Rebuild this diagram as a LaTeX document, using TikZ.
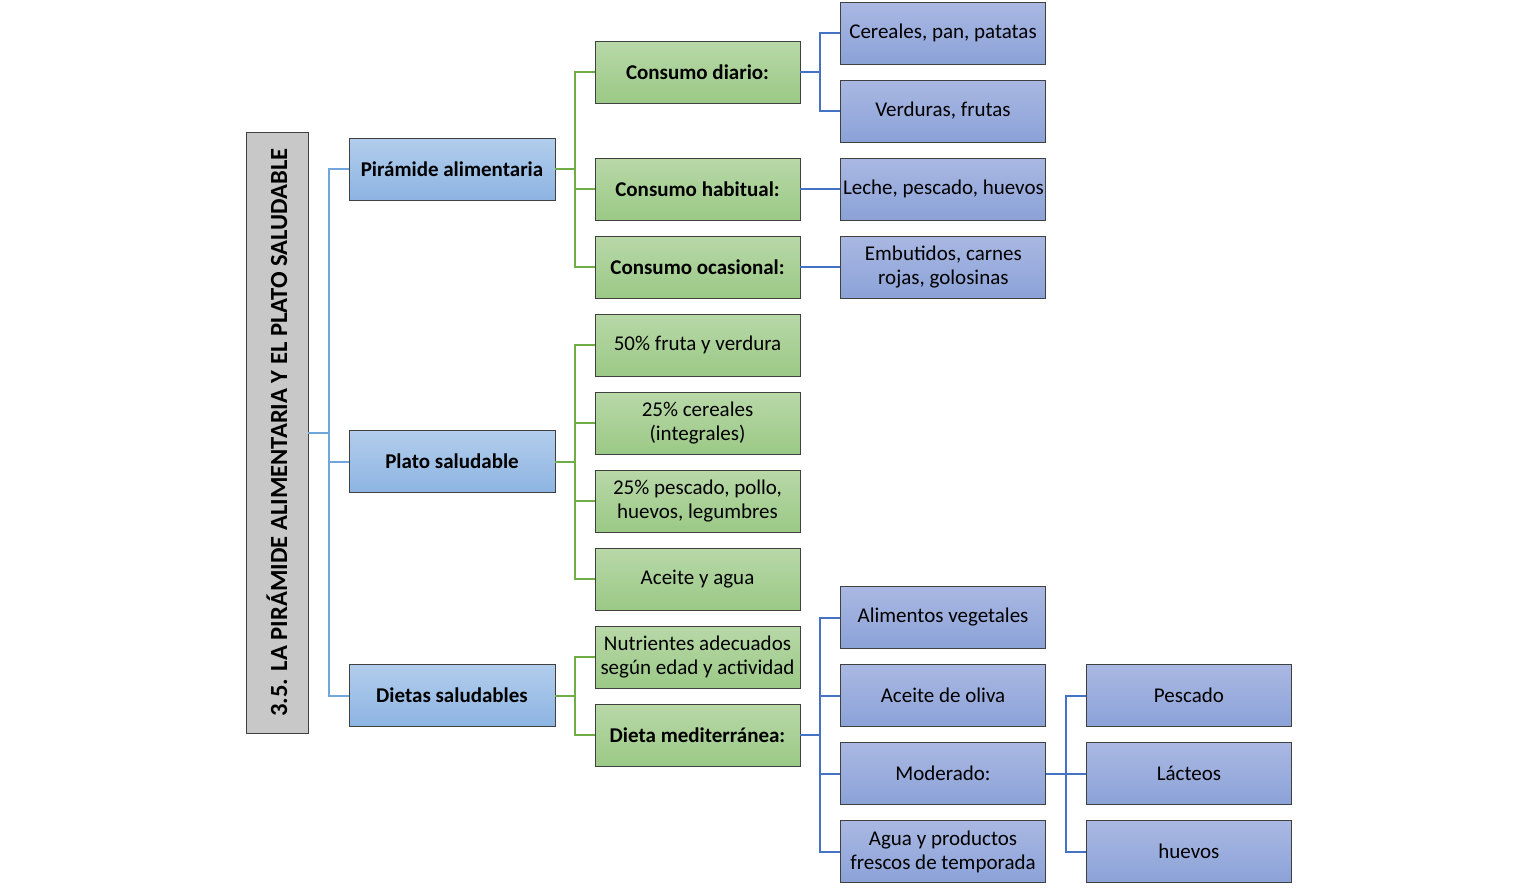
\documentclass[tikz,border=0pt]{standalone}
\usepackage{fontspec}
\setmainfont{Carlito}
\usepackage{tikz}
\usetikzlibrary{
  calc,
  positioning,
  shapes,
}
\definecolor{boxline}{RGB}{64, 64, 64}
\definecolor{titlegray}{RGB}{200, 200, 200}
\definecolor{bluetop}{RGB}{178, 205, 236}
\definecolor{bluebot}{RGB}{141, 180, 226}
\definecolor{greentop}{RGB}{184, 216, 168}
\definecolor{greenbot}{RGB}{155, 201, 134}
\definecolor{lilactop}{RGB}{170, 184, 226}
\definecolor{lilacbot}{RGB}{139, 162, 216}
\definecolor{linelight}{RGB}{111, 166, 220}
\definecolor{linegreen}{RGB}{112, 173, 71}
\definecolor{lineblue}{RGB}{68, 114, 196}
\tikzstyle{box} = [
  rectangle,
  draw=boxline,
  line width=0.9pt,
  minimum height=62,
  inner sep=2pt,
  align=center,
  font=\fontsize{21}{24}\selectfont,
]
\tikzstyle{topic} = [box, minimum width=206, top color=bluetop, bottom color=bluebot, font=\fontsize{21}{24}\selectfont\bfseries]
\tikzstyle{sub} = [box, minimum width=205, top color=greentop, bottom color=greenbot]
\tikzstyle{item} = [box, minimum width=205, top color=lilactop, bottom color=lilacbot]
\tikzstyle{lightline} = [line width=2pt, linelight]
\tikzstyle{greenline} = [line width=2pt, linegreen]
\tikzstyle{blueline} = [line width=2pt, lineblue]

\begin{document}
\begin{tikzpicture}[x=1pt, y=-1pt, node distance=0pt and 40pt]
  \useasboundingbox (0,0) rectangle (1538,889);

  % title
  \node[rectangle, draw=boxline, line width=0.9pt, fill=titlegray, minimum width=601, minimum height=62,
        rotate=90, font=\fontsize{24.6}{28}\selectfont\bfseries] (title) at (277,432.5)
        {3.5. LA PIRÁMIDE ALIMENTARIA Y EL PLATO SALUDABLE};

  % first level
  \node[topic] (piramide) at (452,169) {Pirámide alimentaria};
  \node[topic] (plato)    at (452,461.5) {Plato saludable};
  \node[topic] (dietas)   at (452,695.5) {Dietas saludables};

  % second level
  \node[sub, font=\fontsize{21}{24}\selectfont\bfseries] (diario)    at (697.5,72)  {Consumo diario:};
  \node[sub, font=\fontsize{21}{24}\selectfont\bfseries] (habitual)  at (697.5,189) {Consumo habitual:};
  \node[sub, font=\fontsize{21}{24}\selectfont\bfseries] (ocasional) at (697.5,267) {Consumo ocasional:};
  \node[sub] (fruta)    at (697.5,345) {50\% fruta y verdura};
  \node[sub] (cereales) at (697.5,423) {25\% cereales\\(integrales)};
  \node[sub] (pescado)  at (697.5,501) {25\% pescado, pollo,\\huevos, legumbres};
  \node[sub] (aceite)   at (697.5,579) {Aceite y agua};
  \node[sub] (nutrientes) at (697.5,657) {Nutrientes adecuados\\según edad y actividad};
  \node[sub, font=\fontsize{21}{24}\selectfont\bfseries] (mediterranea) at (697.5,735) {Dieta mediterránea:};

  % third level
  \node[item] (cerealespan) at (943,33)  {Cereales, pan, patatas};
  \node[item] (verduras)    at (943,111) {Verduras, frutas};
  \node[item, right=of habitual]  (leche)     {Leche, pescado, huevos};
  \node[item, right=of ocasional] (embutidos) {Embutidos, carnes\\rojas, golosinas};
  \node[item] (vegetales) at (943,617.5) {Alimentos vegetales};
  \node[item] (oliva)     at (943,695.5) {Aceite de oliva};
  \node[item] (moderado)  at (943,773.5) {Moderado:};
  \node[item] (agua)      at (943,851.5) {Agua y productos\\frescos de temporada};

  % fourth level
  \node[item, right=of oliva]    (pesc)    {Pescado};
  \node[item, right=of moderado] (lacteos) {Lácteos};
  \node[item, right=of agua]     (huevos)  {huevos};

  % connectors
  \coordinate (trunk) at ($(title.south)+(21,0)$);
  \draw[lightline] (title.south) -- (trunk);
  \draw[lightline] (trunk) |- (piramide.west);
  \draw[lightline] (trunk) |- (plato.west);
  \draw[lightline] (trunk) |- (dietas.west);

  \coordinate (pj) at ($(piramide.east)+(20,0)$);
  \draw[greenline] (piramide.east) -- (pj);
  \draw[greenline] (pj) |- (diario.west);
  \draw[greenline] (pj) |- (habitual.west);
  \draw[greenline] (pj) |- (ocasional.west);

  \coordinate (plj) at ($(plato.east)+(20,0)$);
  \draw[greenline] (plato.east) -- (plj);
  \draw[greenline] (plj) |- (fruta.west);
  \draw[greenline] (plj) |- (cereales.west);
  \draw[greenline] (plj) |- (pescado.west);
  \draw[greenline] (plj) |- (aceite.west);

  \coordinate (dj) at ($(dietas.east)+(20,0)$);
  \draw[greenline] (dietas.east) -- (dj);
  \draw[greenline] (dj) |- (nutrientes.west);
  \draw[greenline] (dj) |- (mediterranea.west);

  \coordinate (cj) at ($(diario.east)+(20,0)$);
  \draw[blueline] (diario.east) -- (cj);
  \draw[blueline] (cj) |- (cerealespan.west);
  \draw[blueline] (cj) |- (verduras.west);
  \draw[blueline] (habitual.east) -- (leche.west);
  \draw[blueline] (ocasional.east) -- (embutidos.west);

  \coordinate (mj) at ($(mediterranea.east)+(20,0)$);
  \draw[blueline] (mediterranea.east) -- (mj);
  \draw[blueline] (mj) |- (vegetales.west);
  \draw[blueline] (mj) |- (oliva.west);
  \draw[blueline] (mj) |- (moderado.west);
  \draw[blueline] (mj) |- (agua.west);

  \coordinate (moj) at ($(moderado.east)+(20,0)$);
  \draw[blueline] (moderado.east) -- (moj);
  \draw[blueline] (moj) |- (pesc.west);
  \draw[blueline] (moj) |- (lacteos.west);
  \draw[blueline] (moj) |- (huevos.west);
\end{tikzpicture}
\end{document}
